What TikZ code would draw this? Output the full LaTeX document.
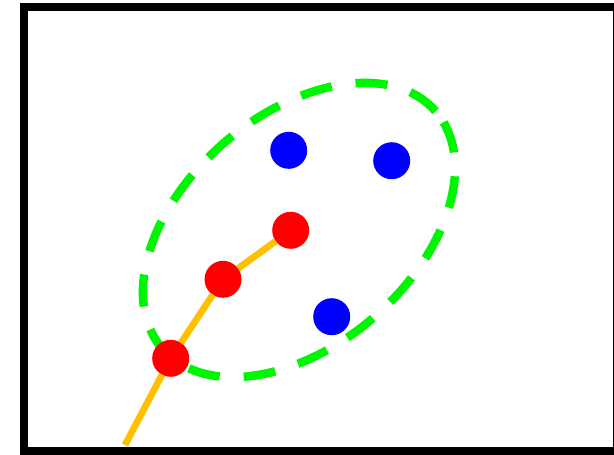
\documentclass[tikz,border=0pt]{standalone}
\usepackage{xcolor}
\usepackage{tikz}
\usetikzlibrary{positioning,calc}

\definecolor{hullgreen}{RGB}{0,245,0}
\definecolor{pathorange}{RGB}{255,192,0}

\begin{document}
\begin{tikzpicture}[
    reddot/.style={circle,fill=red,minimum size=0.74cm,inner sep=0pt,outer sep=0pt},
    bluedot/.style={circle,fill=blue,minimum size=0.74cm,inner sep=0pt,outer sep=0pt},
    walk/.style={pathorange,line width=0.135cm},
    hull/.style={hullgreen,line width=0.17cm,dash pattern=on 0.64cm off 0.48cm}
  ]
    \useasboundingbox (0,0) rectangle (12.28,9.08);
    % frame, right side runs off the page
    \draw[line width=0.16cm] (0.47,0.06) rectangle (12.34,8.94);
    % dashed region round the points
    \draw[hull] (5.98,4.48) ellipse[x radius=3.62cm,y radius=2.30cm,rotate=41];
    % points
    \node[reddot] (r1) at (3.414,1.914) {};
    \node[reddot] (r2) at (4.46,3.494) {};
    \node[reddot] (r3) at (5.814,4.474) {};
    \node[bluedot] (b1) at (5.774,6.074) {};
    \node[bluedot] (b2) at (7.834,5.866) {};
    \node[bluedot] (b3) at (6.634,2.746) {};
    % path coming in from below
    \coordinate (start) at (2.50,0.18);
    \draw[walk] (start) -- (r1);
    \draw[walk] (r1) -- (r2);
    \draw[walk] (r2) -- (r3);
  \end{tikzpicture}
\end{document}
